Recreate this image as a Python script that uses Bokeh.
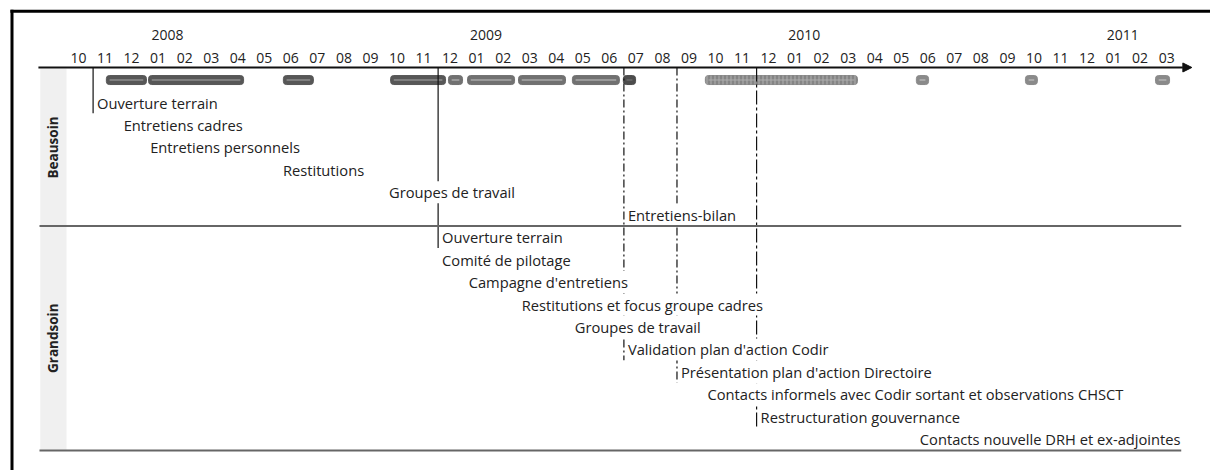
import math
import pandas as pd
from bokeh.plotting import figure
from bokeh.models import Range1d, Arrow, NormalHead, ColumnDataSource
from bokeh.core.properties import value
from bokeh.embed import file_html
from bokeh.resources import INLINE

# ---------------- data ----------------
# x unit = months, 0 = October 2007 (label centre of each month)
MONTHS = pd.period_range("2007-10", "2011-03", freq="M")
month_labels = [f"{m.month:02d}" for m in MONTHS]
month_pos = list(range(len(MONTHS)))
years = ["2008", "2009", "2010", "2011"]
year_month_index = [i for i, m in enumerate(MONTHS) if m.month == 1]

# Beausoin activity bars (start / end in months)
bar_start = [1.05, 2.64, 7.72, 11.76, 13.94, 14.66, 16.58, 18.61, 20.53, 23.62, 31.57, 35.68, 40.58]
bar_end = [2.56, 6.22, 8.85, 13.83, 14.47, 16.43, 18.35, 20.38, 20.99, 29.35, 32.03, 36.13, 41.11]
bar_kind = ["dark", "dark", "dark", "dark", "medium", "medium", "medium", "medium",
            "darksmall", "dotted", "light", "light", "light"]

# Milestones (vertical markers): month, row of the label they point to, style
event_month = [0, 13, 20, 22, 25]
event_row = [0, 6, 11, 12, 14]
event_style = ["solid", "solid", "dashdot", "dashdot", "longdash"]

beausoin_labels = ["Ouverture terrain", "Entretiens cadres", "Entretiens personnels",
                   "Restitutions", "Groupes de travail", "Entretiens-bilan"]
beausoin_month = [0, 1, 2, 7, 11, 20]

grandsoin_labels = ["Ouverture terrain", "Comité de pilotage", "Campagne d'entretiens",
                    "Restitutions et focus groupe cadres", "Groupes de travail",
                    "Validation plan d'action Codir", "Présentation plan d'action Directoire",
                    "Contacts informels avec Codir sortant et observations CHSCT",
                    "Restructuration gouvernance", "Contacts nouvelle DRH et ex-adjointes"]
grandsoin_month = [13, 13, 14, 16, 18, 20, 22, 23, 25, 31]

groups = ["Beausoin", "Grandsoin"]

# ---------------- layout ----------------
W, H = 1210, 470
PX_PER_MONTH = 26.54
X0_PX = 78.0
ROW_PX = 22.45
Y0_PX = 102.0
MARK_OFFSET = 0.55          # milestone position inside a month
AXIS_ROW = -1.56
BAR_ROW = -1.0
MONTH_ROW = -2.0
YEAR_ROW = -3.0
LEFT = -1.47
RIGHT = 41.55
FONT = value("Open Sans")
LABEL_SIZE = "14.7px"

X_MIN, X_MAX = -X0_PX / PX_PER_MONTH, (W - X0_PX) / PX_PER_MONTH
Y_TOP, Y_BOTTOM = -Y0_PX / ROW_PX, (H - Y0_PX) / ROW_PX

p = figure(width=W, height=H,
           x_range=Range1d(X_MIN, X_MAX),
           y_range=Range1d(Y_BOTTOM, Y_TOP),
           output_backend="svg", toolbar_location=None,
           x_axis_location=None, y_axis_location=None,
           min_border=0, min_border_left=0, min_border_right=0,
           min_border_top=0, min_border_bottom=0)
p.grid.visible = False
p.outline_line_color = None
p.background_fill_color = "white"
p.border_fill_color = "white"

# frame (top and left, meeting at the corner)
frame_x = (-X0_PX + 11.5) / PX_PER_MONTH
frame_y = (-Y0_PX + 10.8) / ROW_PX
p.segment(x0=[frame_x - 0.06, frame_x], y0=[frame_y, frame_y - 0.07],
          x1=[X_MAX + 1, frame_x], y1=[frame_y, Y_BOTTOM + 1],
          line_color="black", line_width=3)

n_b = len(beausoin_labels)
n_g = len(grandsoin_labels)
last_row = n_b + n_g - 1

# grey group band
p.quad(left=LEFT + 0.03, right=-0.45, top=-1.5, bottom=last_row + 0.5,
       fill_color="#f0f0f0", line_color=None)

# group titles
p.text(x=[-0.95, -0.95], y=[(-1.5 + n_b - 0.5) / 2, (n_b - 0.5 + last_row + 0.5) / 2],
       text=groups, angle=math.pi / 2, text_align="center", text_baseline="middle",
       text_font=FONT, text_font_size="13.5px", text_font_style="bold", text_color="#222222")

# time axis
p.add_layout(Arrow(x_start=LEFT - 0.04, y_start=AXIS_ROW, x_end=41.95, y_end=AXIS_ROW,
                   line_color="#111111", line_width=2,
                   end=NormalHead(size=9, fill_color="#111111", line_color="#111111")))

p.text(x=month_pos, y=[MONTH_ROW] * len(month_pos), text=month_labels,
       text_align="center", text_baseline="middle", text_font=FONT,
       text_font_size="14px", text_color="#222222")
p.text(x=[i + 0.35 for i in year_month_index], y=[YEAR_ROW] * len(years), text=years,
       text_align="center", text_baseline="middle", text_font=FONT,
       text_font_size="14px", text_color="#222222")

# bars
fills = {"dark": "#575757", "medium": "#717171", "darksmall": "#4c4c4c",
         "dotted": "#858585", "light": "#8a8a8a"}
highlights = {"dark": "#8c8c8c", "medium": "#a9a9a9", "darksmall": "#6a6a6a",
              "dotted": "#a0a0a0", "light": "#b5b5b5"}
bar_src = ColumnDataSource(dict(
    left=bar_start, right=bar_end,
    top=[BAR_ROW - 0.2] * len(bar_start), bottom=[BAR_ROW + 0.2] * len(bar_start),
    fill=[fills[k] for k in bar_kind],
    hl=[highlights[k] for k in bar_kind],
    hx0=[s + 0.12 for s in bar_start], hx1=[e - 0.12 for e in bar_end],
    hy=[BAR_ROW] * len(bar_start),
))
p.quad(left="left", right="right", top="top", bottom="bottom", source=bar_src,
       fill_color="fill", line_color="fill", border_radius=3)
p.segment(x0="hx0", y0="hy", x1="hx1", y1="hy", source=bar_src, line_color="hl", line_width=1.5)
dotted_idx = [i for i, k in enumerate(bar_kind) if k == "dotted"]
p.quad(left=[bar_start[i] for i in dotted_idx], right=[bar_end[i] for i in dotted_idx],
       top=[BAR_ROW - 0.2] * len(dotted_idx), bottom=[BAR_ROW + 0.2] * len(dotted_idx),
       fill_alpha=0, line_color=None, hatch_pattern="vertical_line",
       hatch_color="#b0b0b0", hatch_scale=4, hatch_weight=1, border_radius=3)

# milestone lines
dashes = {"solid": "solid", "dashdot": "8 3 2 3", "longdash": "14 3 3 3"}
for m, r, s in zip(event_month, event_row, event_style):
    p.segment(x0=[m + MARK_OFFSET], y0=[AXIS_ROW], x1=[m + MARK_OFFSET], y1=[r + 0.48],
              line_color="#111111", line_width=1.2, line_dash=dashes[s])

# labels (white boxes hide the milestone lines behind them)
lab_x = [m + MARK_OFFSET for m in beausoin_month + grandsoin_month]
lab_y = list(range(n_b + n_g))
p.text(x=lab_x, y=lab_y, text=beausoin_labels + grandsoin_labels,
       x_offset=3, text_align="left", text_baseline="middle", text_font=FONT,
       text_font_size=LABEL_SIZE, text_color="#222222",
       background_fill_color="white", padding=(1, 1, 1, 1))

# separators (drawn last, on top)
p.segment(x0=[LEFT, LEFT], y0=[n_b - 0.5, last_row + 0.5], x1=[RIGHT, RIGHT],
          y1=[n_b - 0.5, last_row + 0.5], line_color="#666666", line_width=2)

open("out.html", "w").write(file_html(p, INLINE))
